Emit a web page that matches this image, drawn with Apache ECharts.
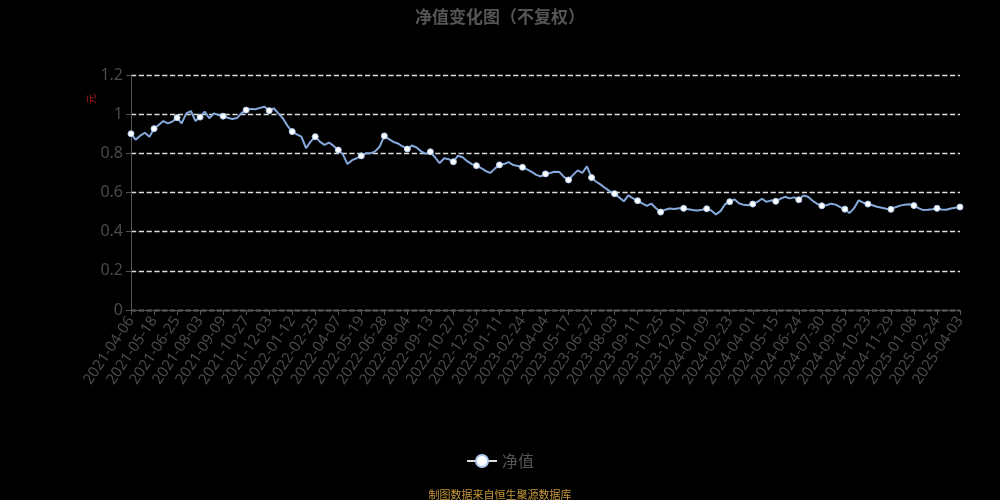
<!DOCTYPE html>
<html><head><meta charset="utf-8">
<script src="https://cdn.jsdelivr.net/npm/echarts@6/dist/echarts.min.js"></script>
<style>html,body{margin:0;background:#000}#c{width:1000px;height:500px}</style>
</head><body><div id="c"></div>
<script>
const tickDates = ['2021-04-06','2021-05-18','2021-06-25','2021-08-03','2021-09-09','2021-10-27','2021-12-03',
'2022-01-12','2022-02-25','2022-04-07','2022-05-19','2022-06-28','2022-08-04','2022-09-13','2022-10-27','2022-12-05',
'2023-01-11','2023-02-24','2023-04-04','2023-05-17','2023-06-27','2023-08-03','2023-09-11','2023-10-25','2023-12-01',
'2024-01-09','2024-02-23','2024-04-01','2024-05-15','2024-06-24','2024-07-30','2024-09-05','2024-10-23','2024-11-29',
'2025-01-08','2025-02-24','2025-04-03'];
const pointsPerTick = 5;
const navValues = [
0.900,0.870,0.890,0.905,0.885,
0.926,0.945,0.965,0.953,0.962,
0.982,0.953,1.004,1.016,0.965,
0.985,1.013,0.979,1.004,0.996,
0.990,0.982,0.975,0.980,1.005,
1.021,1.027,1.025,1.032,1.038,
1.018,1.030,1.004,0.978,0.940,
0.911,0.897,0.885,0.826,0.860,
0.885,0.860,0.843,0.855,0.838,
0.817,0.795,0.745,0.765,0.775,
0.787,0.800,0.800,0.810,0.835,
0.889,0.872,0.858,0.850,0.835,
0.822,0.840,0.830,0.810,0.797,
0.808,0.780,0.750,0.775,0.770,
0.757,0.788,0.780,0.760,0.745,
0.737,0.725,0.710,0.700,0.722,
0.741,0.745,0.755,0.740,0.735,
0.729,0.718,0.705,0.690,0.682,
0.695,0.700,0.706,0.705,0.680,
0.664,0.690,0.713,0.700,0.733,
0.676,0.655,0.640,0.622,0.606,
0.594,0.575,0.555,0.585,0.570,
0.558,0.545,0.532,0.543,0.520,
0.500,0.512,0.518,0.516,0.520,
0.519,0.515,0.511,0.508,0.512,
0.517,0.508,0.488,0.505,0.540,
0.553,0.565,0.545,0.537,0.535,
0.541,0.552,0.568,0.552,0.560,
0.555,0.568,0.578,0.570,0.575,
0.563,0.585,0.578,0.558,0.542,
0.532,0.535,0.543,0.538,0.525,
0.515,0.495,0.520,0.560,0.548,
0.541,0.535,0.527,0.522,0.517,
0.514,0.525,0.533,0.538,0.540,
0.533,0.520,0.510,0.512,0.515,
0.519,0.513,0.512,0.518,0.522,
0.526];

function fmt(d){return d.toISOString().slice(0,10);}
function buildCategories(){
  const out=[];
  for(let i=0;i<tickDates.length-1;i++){
    const a=new Date(tickDates[i]+'T00:00:00Z'), b=new Date(tickDates[i+1]+'T00:00:00Z');
    const days=(b-a)/86400000;
    out.push(tickDates[i]);
    for(let j=1;j<pointsPerTick;j++){
      out.push(fmt(new Date(a.getTime()+Math.round(j*days/pointsPerTick)*86400000)));
    }
  }
  out.push(tickDates[tickDates.length-1]);
  return out;
}
const categories = buildCategories();

const chart = echarts.init(document.getElementById('c'));
chart.setOption({
  backgroundColor:'#000',
  textStyle:{fontFamily:'Noto Sans, Noto Sans CJK SC, sans-serif'},
  title:[
    {text:'净值变化图（不复权）', left:'center', top:3, textStyle:{color:'#555', fontSize:17, fontWeight:'bold', fontFamily:'Noto Sans CJK SC'}},
    {text:'制图数据来自恒生聚源数据库', left:'center', top:484, textStyle:{color:'#c8983a', fontSize:11, fontWeight:'normal', fontFamily:'Noto Sans CJK SC'}}
  ],
  graphic:[{type:'text', left:86, top:94, rotation:Math.PI/2, style:{text:'元', fill:'#b01818', font:'10px "Noto Sans CJK SC"'}}],
  legend:{top:448, left:'center', itemWidth:30, itemHeight:15, itemGap:10,
    textStyle:{color:'#555', fontSize:16, fontFamily:'Noto Sans CJK SC'},
    itemStyle:{color:'#fff'}, lineStyle:{color:'#ddd'}},
  grid:{left:131, right:40, top:75, bottom:190},
  xAxis:{type:'category', boundaryGap:false, data:categories,
    axisLine:{lineStyle:{color:'#555'}},
    axisTick:{interval:pointsPerTick-1, lineStyle:{color:'#555'}},
    axisLabel:{interval:pointsPerTick-1, rotate:56, color:'#4a4a4a', fontSize:15}},
  yAxis:{type:'value', min:0, max:1.2, interval:0.2,
    axisLine:{show:true, lineStyle:{color:'#555'}},
    axisTick:{show:true, lineStyle:{color:'#555'}},
    axisLabel:{color:'#4a4a4a', fontSize:16},
    splitLine:{lineStyle:{type:'dashed', color:'#ddd', width:1.3}}},
  series:[{name:'净值', type:'line', data:navValues,
    showSymbol:true, showAllSymbol:false, symbol:'circle', symbolSize:6,
    itemStyle:{color:'#fff', borderColor:'#b0cbf0', borderWidth:1},
    lineStyle:{color:'#86a9dc', width:2}}]
});
</script></body></html>
